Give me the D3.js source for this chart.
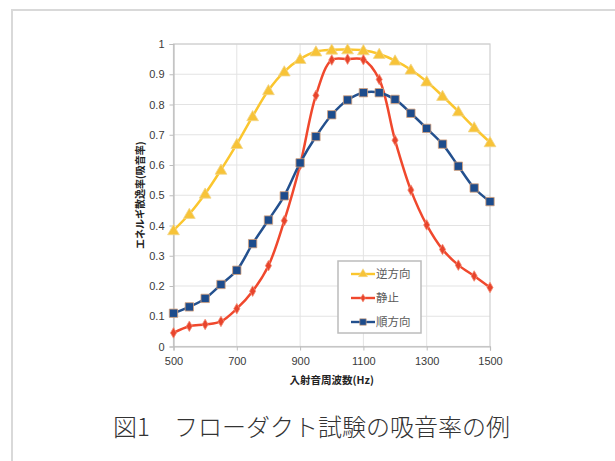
<!DOCTYPE html>
<html>
<head>
<meta charset="utf-8">
<script src="https://cdn.jsdelivr.net/npm/d3@7"></script>
<style>
  body { margin: 0; background: #fff; }
  svg { display: block; }
</style>
</head>
<body>
<div id="chart"></div>
<script>
// frequencies (Hz)
var freqs = [500, 550, 600, 650, 700, 750, 800, 850, 900, 950, 1000,
             1050, 1100, 1150, 1200, 1250, 1300, 1350, 1400, 1450, 1500];

// absorption coefficient per series
var reverseDir = [0.384, 0.438, 0.505, 0.584, 0.669, 0.761, 0.847, 0.909, 0.950, 0.975, 0.981,
                  0.982, 0.979, 0.967, 0.945, 0.915, 0.876, 0.828, 0.777, 0.724, 0.675];
var still = [0.045, 0.067, 0.073, 0.083, 0.125, 0.183, 0.267, 0.416, 0.600, 0.830, 0.947,
             0.950, 0.948, 0.883, 0.682, 0.517, 0.402, 0.321, 0.269, 0.233, 0.195];
var forwardDir = [0.110, 0.131, 0.159, 0.205, 0.252, 0.340, 0.418, 0.498, 0.607, 0.694, 0.766,
                  0.815, 0.839, 0.839, 0.817, 0.771, 0.721, 0.669, 0.596, 0.524, 0.479];

var seriesNames = ["逆方向", "静止", "順方向"];
var xTicks = [500, 700, 900, 1100, 1300, 1500];
var yTicks = [0, 0.1, 0.2, 0.3, 0.4, 0.5, 0.6, 0.7, 0.8, 0.9, 1];

var width = 615, height = 461;

var svg = d3.select("#chart").append("svg")
    .attr("width", width)
    .attr("height", height);

// outer frame (runs off the right and bottom)
svg.append("path")
    .attr("d", "M12,470 L12,10 L630,10")
    .attr("fill", "none")
    .attr("stroke", "#d9d9d9")
    .attr("stroke-width", 2);

var x = d3.scaleLinear().domain([500, 1500]).range([173.5, 490]);
var y = d3.scaleLinear().domain([0, 1]).range([346.5, 44]);

// grid
var grid = svg.append("g").attr("stroke", "#e3e3e3").attr("stroke-width", 1);
grid.selectAll("line.h").data(yTicks.slice(1)).enter().append("line")
    .attr("x1", x(500)).attr("x2", x(1500))
    .attr("y1", function(d) { return y(d); })
    .attr("y2", function(d) { return y(d); });
grid.selectAll("line.v").data(xTicks.slice(1, -1)).enter().append("line")
    .attr("y1", y(0)).attr("y2", y(1))
    .attr("x1", function(d) { return x(d); })
    .attr("x2", function(d) { return x(d); });

// plot border
svg.append("rect")
    .attr("x", x(500)).attr("y", y(1))
    .attr("width", x(1500) - x(500)).attr("height", y(0) - y(1))
    .attr("fill", "none")
    .attr("stroke", "#cfcfcf")
    .attr("stroke-width", 1.2);

// axes
var yAxis = svg.append("g")
    .attr("transform", "translate(" + x(500) + ",0)")
    .call(d3.axisLeft(y).tickValues(yTicks).tickSize(4).tickPadding(5)
      .tickFormat(function(d) { return String(+d.toFixed(1)); }));
var xAxis = svg.append("g")
    .attr("transform", "translate(0," + y(0) + ")")
    .call(d3.axisBottom(x).tickValues(xTicks).tickSize(4).tickPadding(7)
      .tickFormat(d3.format("d")));

[yAxis, xAxis].forEach(function(a) {
  a.select(".domain").attr("stroke", "#bdbdbd").attr("stroke-width", 1.2);
  a.selectAll(".tick line").attr("stroke", "#bdbdbd");
  a.selectAll(".tick text")
    .attr("fill", "#3a3a3a")
    .attr("font-family", "Liberation Sans, Arial, sans-serif")
    .attr("font-size", 11);
});

// axis titles
svg.append("text")
    .attr("transform", "translate(140," + ((y(0) + y(1)) / 2) + ") rotate(-90)")
    .attr("text-anchor", "middle")
    .attr("dy", "0.35em")
    .attr("font-family", "Noto Sans CJK JP, sans-serif")
    .attr("font-weight", "bold")
    .attr("font-size", 10)
    .attr("fill", "#222")
    .text("エネルギ散逸率(吸音率)");

svg.append("text")
    .attr("x", (x(500) + x(1500)) / 2)
    .attr("y", 384)
    .attr("text-anchor", "middle")
    .attr("font-family", "Noto Sans CJK JP, sans-serif")
    .attr("font-weight", "bold")
    .attr("font-size", 10.5)
    .attr("fill", "#222")
    .text("入射音周波数(Hz)");

var series = [
  { name: seriesNames[0], values: reverseDir, color: "#fbc62e", fill: "#f7c338", stroke: "#f1d68a", symbol: d3.symbolTriangle, size: 60 },
  { name: seriesNames[1], values: still, color: "#f0482d", fill: "#e8442c", stroke: "#f38a74", symbol: d3.symbolDiamond, size: 32 },
  { name: seriesNames[2], values: forwardDir, color: "#23508e", fill: "#1d4c8c", stroke: "#d9a27a", symbol: d3.symbolSquare, size: 70 }
];

var line = d3.line()
    .x(function(d, i) { return x(freqs[i]); })
    .y(function(d) { return y(d); })
    .curve(d3.curveCatmullRom.alpha(0.5));

series.forEach(function(s) {
  var g = svg.append("g");
  g.append("path")
    .attr("d", line(s.values))
    .attr("fill", "none")
    .attr("stroke", s.color)
    .attr("stroke-width", 2.5);
  g.selectAll("path.m").data(s.values).enter().append("path")
    .attr("class", "m")
    .attr("transform", function(d, i) {
      var dy = s.symbol === d3.symbolTriangle ? 1 : 0;
      return "translate(" + x(freqs[i]) + "," + (y(d) + dy) + ")";
    })
    .attr("d", d3.symbol().type(s.symbol).size(s.size))
    .attr("fill", s.fill)
    .attr("stroke", s.stroke)
    .attr("stroke-width", 0.8);
});

// legend
var legend = svg.append("g").attr("transform", "translate(338,261)");
legend.append("rect")
    .attr("width", 83).attr("height", 72)
    .attr("fill", "#fff")
    .attr("stroke", "#bcbcbc")
    .attr("stroke-width", 1.5);
series.forEach(function(s, i) {
  var ly = 13 + i * 24;
  legend.append("line")
    .attr("x1", 13).attr("x2", 37).attr("y1", ly).attr("y2", ly)
    .attr("stroke", s.color).attr("stroke-width", 2.4);
  legend.append("path")
    .attr("transform", "translate(25," + ly + ")")
    .attr("d", d3.symbol().type(s.symbol).size(s.size * 0.6))
    .attr("fill", s.fill).attr("stroke", s.stroke).attr("stroke-width", 0.6);
  legend.append("text")
    .attr("x", 38).attr("y", ly).attr("dy", "0.36em")
    .attr("font-family", "Noto Sans CJK JP, sans-serif")
    .attr("font-size", 11.5)
    .attr("fill", "#5a5a5a")
    .text(s.name);
});

// caption
svg.append("text")
    .attr("x", 311.5)
    .attr("y", 436)
    .attr("text-anchor", "middle")
    .attr("font-family", "Noto Sans CJK JP, sans-serif")
    .attr("font-weight", 300)
    .attr("font-size", 24)
    .attr("fill", "#333")
    .text("図1\u3000フローダクト試験の吸音率の例");
</script>
</body>
</html>
